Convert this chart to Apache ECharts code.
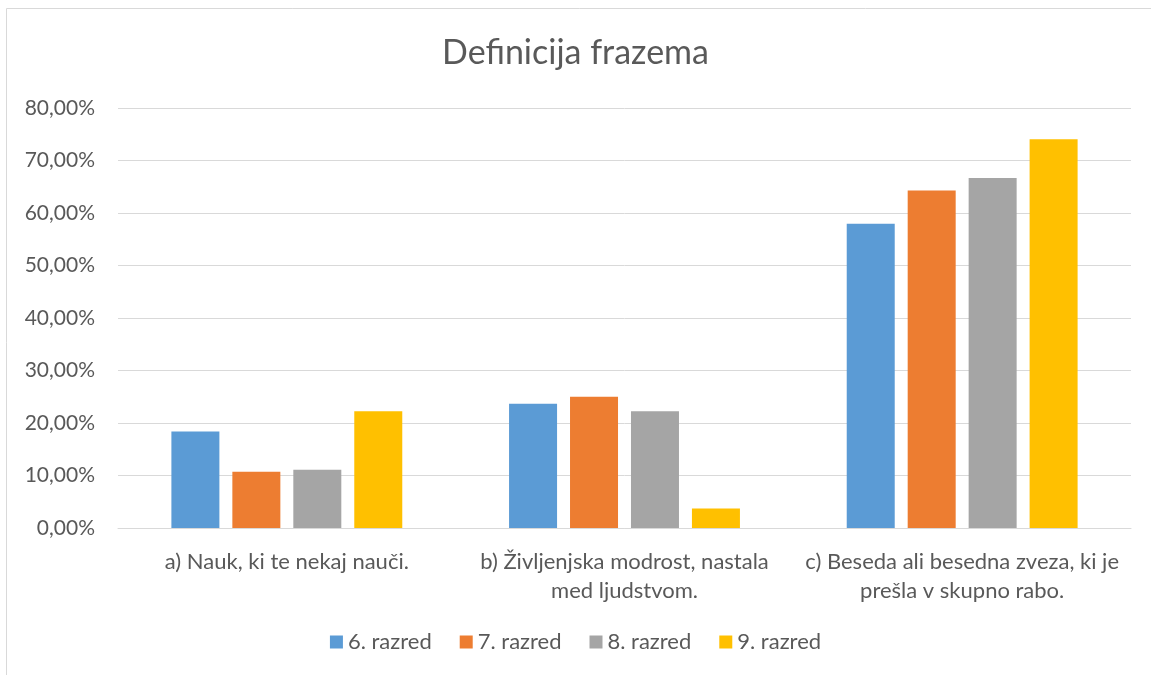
<!DOCTYPE html>
<html>
<head>
<meta charset="utf-8">
<script src="https://cdn.jsdelivr.net/npm/echarts@6/dist/echarts.min.js"></script>
<style>
  html, body { margin: 0; padding: 0; background: #fff; }
  #chart { width: 1151px; height: 675px; }
</style>
</head>
<body>
<div id="chart"></div>
<script>
// podatki
const categories = [
  'a) Nauk, ki te nekaj nauči.',
  'b) Življenjska modrost, nastala\nmed ljudstvom.',
  'c) Beseda ali besedna zveza, ki je\nprešla v skupno rabo.'
];
const seriesNames = ['6. razred', '7. razred', '8. razred', '9. razred'];
const razred6 = [18.37, 23.67, 57.96];
const razred7 = [10.71, 25.00, 64.29];
const razred8 = [11.11, 22.22, 66.67];
const razred9 = [22.22, 3.70, 74.07];
const colors = ['#5b9bd5', '#ed7d31', '#a5a5a5', '#ffc000'];

const textColor = '#595959';
const font = 'Lato, "Open Sans", sans-serif';

const chart = echarts.init(document.getElementById('chart'));

const values = [razred6, razred7, razred8, razred9];

const option = {
  animation: false,
  textStyle: { fontFamily: font },
  title: {
    text: 'Definicija frazema',
    left: 'center',
    top: 31,
    textStyle: { color: textColor, fontSize: 34, fontWeight: 'normal', fontFamily: font }
  },
  legend: {
    bottom: 17,
    left: 'center',
    itemWidth: 13,
    itemHeight: 13,
    itemGap: 28,
    icon: 'rect',
    textStyle: { color: textColor, fontSize: 22, fontFamily: font },
    data: seriesNames
  },
  grid: { left: 118, right: 20, top: 108, bottom: 147 },
  xAxis: {
    type: 'category',
    data: categories,
    axisLine: { lineStyle: { color: '#d9d9d9', width: 1 } },
    axisTick: { show: false },
    axisLabel: {
      color: textColor,
      fontSize: 22,
      lineHeight: 29,
      margin: 19,
      interval: 0,
      fontFamily: font
    }
  },
  yAxis: {
    type: 'value',
    min: 0,
    max: 80,
    interval: 10,
    axisLine: { show: false },
    axisTick: { show: false },
    splitLine: { lineStyle: { color: '#d9d9d9', width: 1 } },
    axisLabel: {
      color: textColor,
      fontSize: 21,
      margin: 23,
      fontFamily: font,
      formatter: v => v.toFixed(2).replace('.', ',') + '%'
    }
  },
  graphic: [{
    type: 'rect',
    shape: { x: 6.5, y: 8.5, width: 1300, height: 800 },
    style: { fill: 'none', stroke: '#d9d9d9', lineWidth: 1 },
    silent: true
  }],
  series: seriesNames.map((name, i) => ({
    name: name,
    type: 'bar',
    data: values[i],
    barWidth: 48,
    barGap: '27%',
    itemStyle: { color: colors[i] }
  }))
};

chart.setOption(option);
</script>
</body>
</html>
